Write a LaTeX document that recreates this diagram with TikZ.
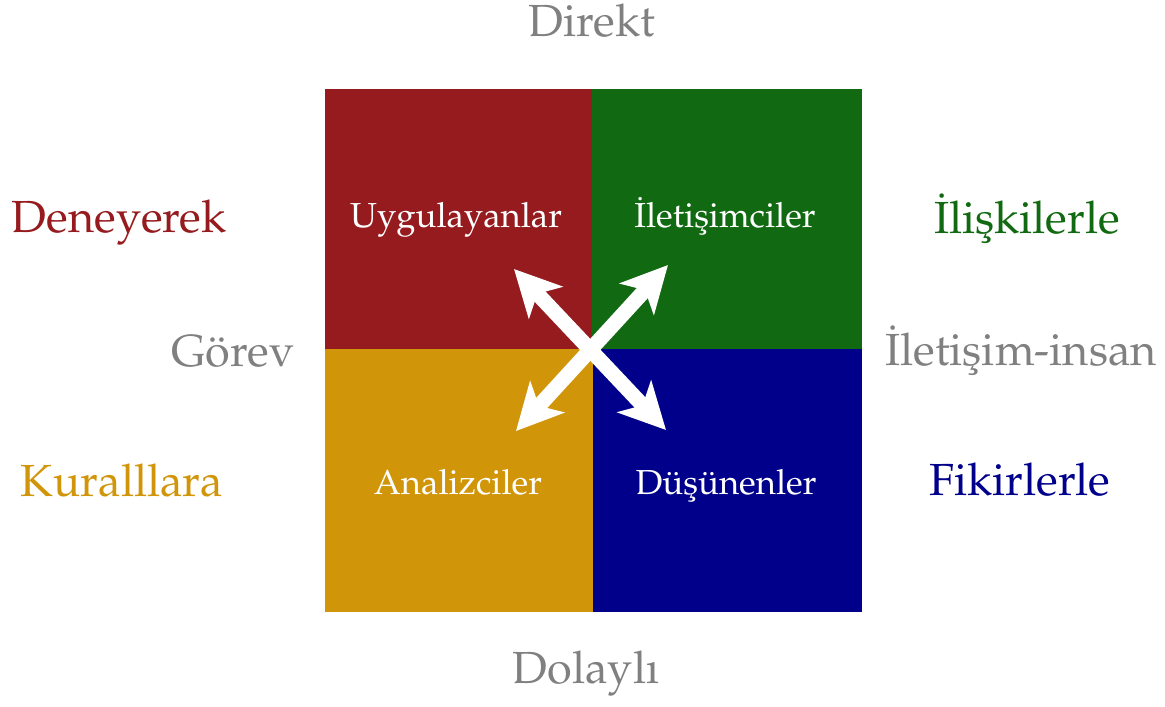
\documentclass[tikz,border=0pt]{standalone}
\usepackage[T1]{fontenc}
\usepackage{mathpazo}
\usetikzlibrary{arrows.meta}
\definecolor{qred}{HTML}{951B1E}
\definecolor{qgreen}{HTML}{116A11}
\definecolor{qgold}{HTML}{D19509}
\definecolor{qblue}{HTML}{00008B}
\definecolor{qgray}{HTML}{808080}
\begin{document}
\begin{tikzpicture}[x=1pt,y=-1pt,
  outer/.style={anchor=base,inner sep=0pt,font=\fontsize{45}{50}\selectfont},
  inner/.style={anchor=base,inner sep=0pt,text=white,font=\fontsize{34.7}{40}\selectfont},
  quad/.style={draw=none,minimum size=0pt,inner sep=0pt},
  biarrow/.style={white,line width=15pt,{Stealth[length=46pt,width=46pt,inset=12pt]}-{Stealth[length=46pt,width=46pt,inset=12pt]}}]
\useasboundingbox (0,0) rectangle (1165,707);
\fill[qred]   (325,89) rectangle (593,349);
\fill[qgreen] (592,89) rectangle (862,349);
\fill[qgold]  (325,349) rectangle (593,612);
\fill[qblue]  (593,349) rectangle (862,612);
\node[inner] (uyg) at (456,227) {Uygulayanlar};
\node[inner] (ilt) at (725,227) {\.Ileti\c{s}imciler};
\node[inner] (ana) at (458,494) {Analizciler};
\node[inner] (dus) at (726,494) {D\"u\c{s}\"unenler};
\coordinate (nw) at (514,269);
\coordinate (se) at (666,430);
\coordinate (ne) at (668,265);
\coordinate (sw) at (516,431);
\draw[biarrow] (nw) -- (se);
\draw[biarrow] (ne) -- (sw);
\node[outer,text=qgray] (dir) at (592,36) {Direkt};
\node[outer,text=qgray] (dol) at (586,683) {Dolayl\i};
\node[outer,text=qgray] (gor) at (233,366) {G\"orev};
\node[outer,text=qgray] (ins) at (1021,365) {\.Ileti\c{s}im-insan};
\node[outer,text=qred] (den) at (119,232) {Deneyerek};
\node[outer,text=qgold] (kur) at (122,496) {Kuralllara};
\node[outer,text=qgreen] (ili) at (1027,233) {\.Ili\c{s}kilerle};
\node[outer,text=qblue] (fik) at (1020,495) {Fikirlerle};
\end{tikzpicture}
\end{document}
